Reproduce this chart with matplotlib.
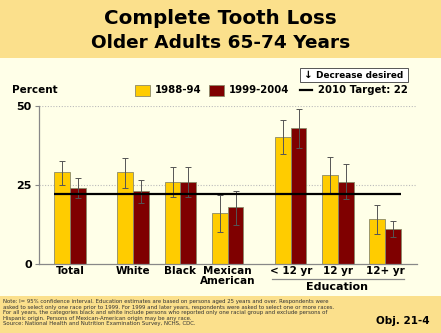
import matplotlib
matplotlib.use("Agg")
import matplotlib.pyplot as plt
from matplotlib.patches import Rectangle

categories = ["Total", "White", "Black", "Mexican\nAmerican", "< 12 yr", "12 yr", "12+ yr"]
positions = [0, 4, 7, 10, 14, 17, 20]

early = [29, 29, 26, 16, 40, 28, 14]
early_lo = [25, 24, 21, 10, 34.6, 22.3, 9.3]
early_hi = [32.6, 33.3, 30.7, 21.7, 45.5, 33.7, 18.5]

late = [24, 23, 26, 18, 43, 26, 11]
late_lo = [20.7, 19.3, 21, 12.2, 36.5, 20.4, 8.5]
late_hi = [27, 26.5, 30.5, 23, 49, 31.5, 13.4]

target = 22
yticks = [0, 25, 50]

YELLOW = "#FFCC00"
RED = "#7F0000"
BAND = "#FBE08C"
CREAM = "#FFFFE8"

fig = plt.figure(figsize=(4.41, 3.33), dpi=100)
fig.patch.set_facecolor(CREAM)

# header and footer bands
fig.patches.append(Rectangle((0, 1 - 58 / 333), 1, 58 / 333, transform=fig.transFigure,
                             facecolor=BAND, edgecolor="none", zorder=0))
fig.patches.append(Rectangle((0, 0), 1, 37 / 333, transform=fig.transFigure,
                             facecolor=BAND, edgecolor="none", zorder=0))

fig.text(0.5, 1 - 18 / 333, "Complete Tooth Loss", ha="center", va="center",
         fontsize=14.3, fontweight="bold", family="DejaVu Sans")
fig.text(0.5, 1 - 43 / 333, "Older Adults 65-74 Years", ha="center", va="center",
         fontsize=13.3, fontweight="bold", family="DejaVu Sans")

ax = fig.add_axes([38.7 / 441, 1 - 263.7 / 333, 378 / 441, 158 / 333])
ax.set_facecolor(CREAM)

w = 1.0
err_early = [[e - lo for e, lo in zip(early, early_lo)], [hi - e for e, hi in zip(early, early_hi)]]
err_late = [[v - lo for v, lo in zip(late, late_lo)], [hi - v for v, hi in zip(late, late_hi)]]
xe = [p - w / 2 for p in positions]
xl = [p + w / 2 for p in positions]
ax.bar(xe, early, width=w, color=YELLOW, edgecolor="#8a8a6a", linewidth=0.6, zorder=2)
ax.bar(xl, late, width=w, color=RED, edgecolor="#8a8a6a", linewidth=0.6, zorder=2)
ax.errorbar(xe, early, yerr=err_early, fmt="none", ecolor="#555555", elinewidth=0.7,
            capsize=2, capthick=0.7, zorder=3)
ax.errorbar(xl, late, yerr=err_late, fmt="none", ecolor="#555555", elinewidth=0.7,
            capsize=2, capthick=0.7, zorder=3)

ax.hlines(target, positions[0] - 1, positions[-1] + 1, color="black", linewidth=1.6, zorder=4)

ax.set_xlim(-2, 22)
ax.set_ylim(0, 50)
ax.set_yticks(yticks)
ax.set_yticklabels([str(t) for t in yticks], fontsize=8, fontweight="bold")
for t in yticks[1:]:
    ax.axhline(t, color="#bbbbbb", linestyle=(0, (1, 1.5)), linewidth=0.8, zorder=1)
ax.set_xticks(positions)
ax.set_xticklabels(categories, fontsize=7.5, fontweight="bold", linespacing=1.0)
ax.tick_params(axis="x", length=0, pad=2)
ax.tick_params(axis="y", length=3, width=0.8, color="#888888", pad=2)
for s in ["top", "right"]:
    ax.spines[s].set_visible(False)
for s in ["left", "bottom"]:
    ax.spines[s].set_color("#888888")
    ax.spines[s].set_linewidth(0.9)

# education bracket
fig.add_artist(plt.Line2D([272 / 441, 404 / 441], [1 - 279 / 333] * 2, color="#888888",
                          linewidth=0.9, transform=fig.transFigure))
fig.text(337 / 441, 1 - 287 / 333, "Education", ha="center", va="center",
         fontsize=8, fontweight="bold")

# legend area
fig.text(12 / 441, 1 - 90 / 333, "Percent", ha="left", va="center", fontsize=7.5, fontweight="bold")
fig.patches.append(Rectangle((135 / 441, 1 - 96 / 333), 15 / 441, 11 / 333, transform=fig.transFigure,
                             facecolor=YELLOW, edgecolor="#8a8a6a", linewidth=0.6))
fig.text(155 / 441, 1 - 90 / 333, "1988-94", ha="left", va="center", fontsize=7.3, fontweight="bold")
fig.patches.append(Rectangle((209 / 441, 1 - 96 / 333), 15 / 441, 11 / 333, transform=fig.transFigure,
                             facecolor=RED, edgecolor="#8a8a6a", linewidth=0.6))
fig.text(229 / 441, 1 - 90 / 333, "1999-2004", ha="left", va="center", fontsize=7.3, fontweight="bold")
fig.add_artist(plt.Line2D([300 / 441, 312 / 441], [1 - 90 / 333] * 2, color="black",
                          linewidth=1.6, transform=fig.transFigure))
fig.text(318 / 441, 1 - 90 / 333, "2010 Target: 22", ha="left", va="center", fontsize=7.3, fontweight="bold")

fig.patches.append(Rectangle((300 / 441, 1 - 82 / 333), 108 / 441, 14 / 333, transform=fig.transFigure,
                             facecolor="white", edgecolor="#555555", linewidth=0.7))
fig.text(304 / 441, 1 - 75 / 333, "\u2193", ha="left", va="center", fontsize=7.5, fontweight="bold")
fig.text(316 / 441, 1 - 75 / 333, "Decrease desired", ha="left", va="center", fontsize=6.4, fontweight="bold")

note = ("Note: I= 95% confidence interval. Education estimates are based on persons aged 25 years and over. Respondents were\n"
        "asked to select only one race prior to 1999. For 1999 and later years, respondents were asked to select one or more races.\n"
        "For all years, the categories black and white include persons who reported only one racial group and exclude persons of\n"
        "Hispanic origin. Persons of Mexican-American origin may be any race.\n"
        "Source: National Health and Nutrition Examination Survey, NCHS, CDC.")
fig.text(3 / 441, 1 - 299 / 333, note, ha="left", va="top", fontsize=3.9, color="#333333",
         linespacing=1.15)
fig.text(430 / 441, 1 - 321 / 333, "Obj. 21-4", ha="right", va="center", fontsize=7.5, fontweight="bold")

fig.savefig("out.png", dpi=100, facecolor=CREAM)
